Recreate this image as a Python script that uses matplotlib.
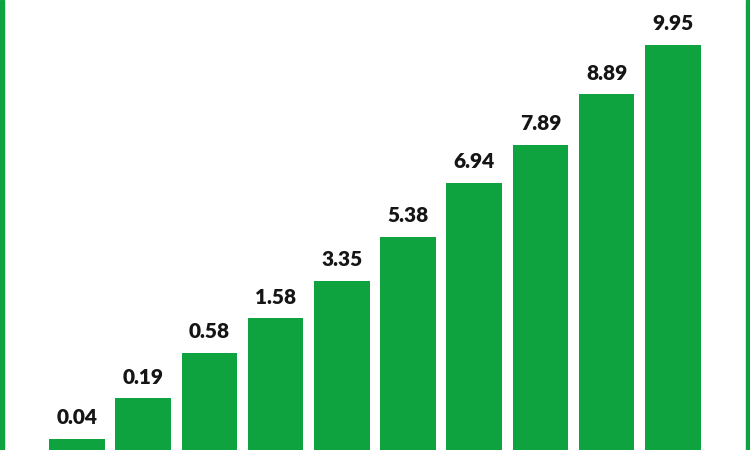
import matplotlib
matplotlib.use('Agg')
import matplotlib.pyplot as plt
from matplotlib.patches import Rectangle

# values printed above the bars
values = [0.04, 0.19, 0.58, 1.58, 3.35, 5.38, 6.94, 7.89, 8.89, 9.95]
labels = ['0.04', '0.19', '0.58', '1.58', '3.35', '5.38', '6.94', '7.89', '8.89', '9.95']
# drawn bar heights as they appear in the picture (not to scale with the values)
bar_heights = [11, 52, 97, 132, 169, 213, 267, 305, 356, 405]

green = '#0ea33e'

fig = plt.figure(figsize=(7.5, 4.5), dpi=100)
ax = fig.add_axes([0, 0, 1, 1])
ax.set_facecolor('white')

x = list(range(len(values)))
bars = ax.bar(x, bar_heights, width=0.84, color=green)

for xi, h, lab in zip(x, bar_heights, labels):
    ax.text(xi, h + 21, lab, ha='center', va='center', fontsize=15,
            fontweight='heavy', color='#151515', family=['Lato', 'DejaVu Sans'])

ax.set_xlim(-77 / 66.2, (750 - 77) / 66.2)
ax.set_ylim(0, 450)
ax.axis('off')

# green frame lines at left and right edges
fig.patches.append(Rectangle((0, 0), 4 / 750, 1, transform=fig.transFigure,
                             color=green, zorder=5))
fig.patches.append(Rectangle((746 / 750, 0), 4 / 750, 1, transform=fig.transFigure,
                             color=green, zorder=5))

fig.savefig('out.png', dpi=100, facecolor='white')
